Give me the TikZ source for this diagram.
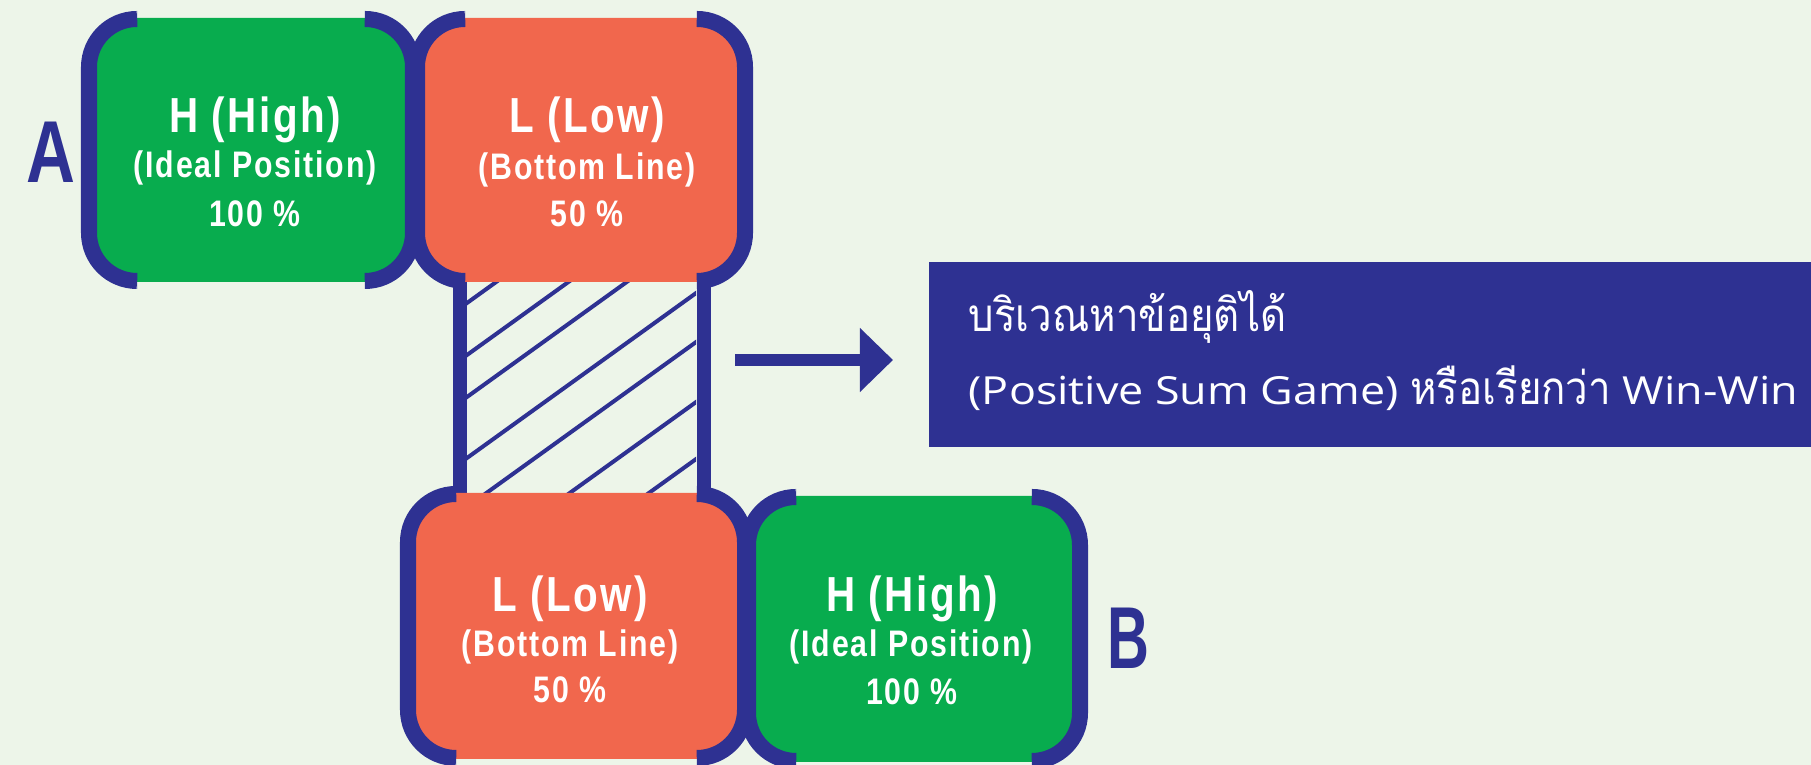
\documentclass[tikz,border=0pt]{standalone}
\usepackage{fontspec}
\setmainfont{Liberation Sans}
\newfontfamily\condf[FakeStretch=0.82,LetterSpace=5]{Liberation Sans}
\newfontfamily\latinf[FakeStretch=1.16]{Open Sans}
\newfontfamily\thaif[Script=Thai,FakeStretch=0.88]{Loma}
\usetikzlibrary{arrows.meta}
\definecolor{bg}{RGB}{237,245,233}
\definecolor{navy}{RGB}{46,49,146}
\definecolor{grn}{RGB}{8,172,78}
\definecolor{org}{RGB}{241,103,77}
\tikzset{
  bracket/.style={draw=navy, line width=0.16cm, rounded corners=0.48cm},
  tone/.style={text=white, inner sep=0pt, anchor=base, font=\condf\bfseries\fontsize{14}{14}\selectfont},
  ttwo/.style={text=white, inner sep=0pt, anchor=base, font=\condf\bfseries\fontsize{10.5}{10.5}\selectfont},
  letter/.style={text=navy, inner sep=0pt, anchor=base, font=\bfseries\fontsize{25}{25}\selectfont},
  restext/.style={text=white, inner sep=0pt, anchor=base west},
  hatch/.style={draw=navy, line width=0.04cm},
  bar/.style={draw=navy, line width=0.14cm},
}
\newcommand\hlbox[5]{%
  \fill[#5, rounded corners=0.48cm] (#1,{#3-1}) rectangle (#2,{#4+1});
  \draw[bracket] ({#1+48},#3) -- (#1,#3) -- (#1,#4) -- ({#1+48},#4);
  \draw[bracket] ({#2-48},#3) -- (#2,#3) -- (#2,#4) -- ({#2-48},#4);
}
\begin{document}
\begin{tikzpicture}[x=0.01cm, y=-0.01cm]
\useasboundingbox (0,0) rectangle (1811,765);
\fill[bg] (0,0) rectangle (1811,765);
% hatched zone
\begin{scope}
  \clip (467,282) rectangle (696,495);
  \foreach \yy in {303,355,397,458,507,567,624}
    \draw[hatch] (460,{\yy+0.72*7}) -- (710,{\yy-0.72*243});
\end{scope}
\draw[bar] (460,275) -- (460,500);
\draw[bar] (704,275) -- (704,500);
% boxes
\hlbox{89}{413}{19}{281}{grn}
\hlbox{417}{745}{19}{281}{org}
\hlbox{408}{745}{494}{758}{org}
\hlbox{748}{1080}{497}{761}{grn}
% texts
\node[tone] (ga1) at (255,133) {H (High)};
\node[ttwo] (ga2) at (255,178) {(Ideal Position)};
\node[ttwo] (ga3) at (255,227) {100 \%};
\node[tone] (oa1) at (587,133) {L (Low)};
\node[ttwo] (oa2) at (587,180) {(Bottom Line)};
\node[ttwo] (oa3) at (587,227) {50 \%};
\node[tone] (ob1) at (570,612) {L (Low)};
\node[ttwo] (ob2) at (570,657) {(Bottom Line)};
\node[ttwo] (ob3) at (570,703) {50 \%};
\node[tone] (gb1) at (912,612) {H (High)};
\node[ttwo] (gb2) at (911,657) {(Ideal Position)};
\node[ttwo] (gb3) at (912,705) {100 \%};
\node[letter] (la) at (50.5,183) {\scalebox{0.77}[1]{A}};
\node[letter] (lb) at (1128,669) {\scalebox{0.66}[1]{B}};
% result box
\node[fill=navy, minimum width=8.83cm, minimum height=1.85cm, anchor=north west, inner sep=0pt] (res) at (928,261) {};
\node[restext] (r1) at (968,332) {\thaif\fontsize{13}{13}\selectfont บริเวณหาข้อยุติได้};
\node[restext] (r2) at (968,405) {\latinf\fontsize{11}{11}\selectfont (Positive Sum Game) {\thaif\fontsize{13}{13}\selectfont หรือเรียกว่า} Win-Win};
% arrow
\coordinate (arS) at (735,360);
\coordinate (arE) at (893,360);
\draw[navy, line width=0.12cm, -{Triangle[length=0.33cm, width=0.62cm]}] (arS) -- (arE);
\end{tikzpicture}
\end{document}
